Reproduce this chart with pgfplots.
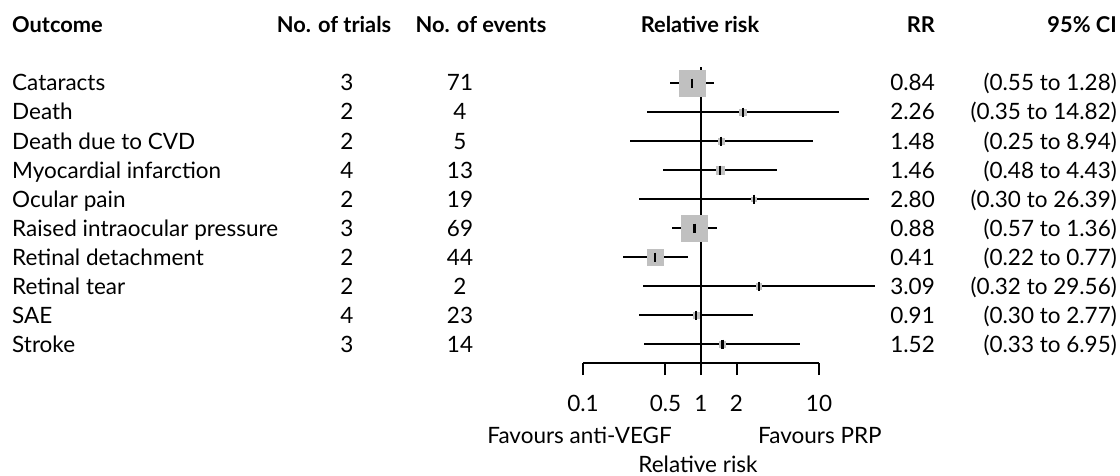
\documentclass[border=0pt]{standalone}
\usepackage{pgfplots}
\pgfplotsset{compat=1.18}
\usepackage{pgfplotstable}
\usepackage{fontspec}
\setmainfont{Lato}

% Pooled relative risks with 95% confidence limits; side = square marker width
\pgfplotstableread{
row rr   lo   hi    side
10  0.84 0.55 1.28  26
9   2.26 0.35 14.82 7
8   1.48 0.25 8.94  7
7   1.46 0.48 4.43  9
6   2.80 0.30 26.39 5
5   0.88 0.57 1.36  26
4   0.41 0.22 0.77  17
3   3.09 0.32 29.56 6
2   0.91 0.30 2.77  6
1   1.52 0.33 6.95  7
}\forestdata

\definecolor{boxgrey}{RGB}{192,192,192}
\newcommand{\txt}{\fontsize{22.5}{27}\selectfont}
\newcommand{\hdr}{\fontsize{21.8}{26}\selectfont\bfseries}

\begin{document}
\begin{tikzpicture}[x=1pt,y=1pt,font=\txt]
\useasboundingbox (0,0) rectangle (1120,475);

\begin{axis}[
  at={(583pt,112pt)}, anchor=south west,
  scale only axis, width=236pt, height=296pt,
  xmode=log, xmin=0.1, xmax=10,
  ymin=0.344828, ymax=10.551724,
  clip=false,
  axis y line=none,
  axis x line*=bottom,
  axis line style={black, line width=2pt},
  xtick={0.1,0.5,1,2,10},
  xticklabels={0.1,0.5,1,2,10},
  minor xtick={},
  xtick pos=bottom,
  tick align=outside,
  major tick length=12pt,
  tick style={black, line width=2pt},
  xticklabel style={font=\txt, anchor=base, yshift=-36pt},
]
% line of no effect
\addplot[black, line width=2pt] coordinates {(1,0.344828) (1,10.551724)};
% weighted squares
\addplot[only marks, mark=square*,
  mark options={draw=boxgrey, fill=boxgrey, line width=0.5pt},
  scatter,
  visualization depends on={\thisrow{side}/2-0.25 \as \halfside},
  scatter/@pre marker code/.code={\pgfplotsset{/tikz/mark size=\halfside}},
  scatter/@post marker code/.code={}]
  table[x=rr, y=row] {\forestdata};
% confidence intervals
\addplot[draw=none, mark=none,
  error bars/.cd, x dir=both, x explicit,
  error bar style={draw=black, line width=2pt}, error mark=none]
  table[x=rr, y=row,
        x error plus expr=\thisrow{hi}-\thisrow{rr},
        x error minus expr=\thisrow{rr}-\thisrow{lo}] {\forestdata};
% point estimates
\addplot[only marks, mark=|, mark size=4.5pt,
  mark options={draw=black, line width=2.2pt}]
  table[x=rr, y=row] {\forestdata};
\end{axis}

% column headers
\begin{scope}[every node/.style={inner sep=0pt, font=\hdr}]
\node[anchor=base west] at (12,442) {Outcome};
\node[anchor=base] at (334,442) {No. of trials};
\node[anchor=base] at (481,442) {No. of events};
\node[anchor=base] at (700,442) {Relative risk};
\node[anchor=base east] at (935,442) {RR};
\node[anchor=base east] at (1117,442) {95\% CI};
\end{scope}

% table rows
\begin{scope}[every node/.style={inner sep=0pt, font=\txt}]
\foreach \i/\name/\tr/\ev/\rr/\ci in {
  0/Cataracts/3/71/0.84/(0.55 to 1.28),
  1/Death/2/4/2.26/(0.35 to 14.82),
  2/Death due to CVD/2/5/1.48/(0.25 to 8.94),
  3/Myocardial infarction/4/13/1.46/(0.48 to 4.43),
  4/Ocular pain/2/19/2.80/(0.30 to 26.39),
  5/Raised intraocular pressure/3/69/0.88/(0.57 to 1.36),
  6/Retinal detachment/2/44/0.41/(0.22 to 0.77),
  7/Retinal tear/2/2/3.09/(0.32 to 29.56),
  8/SAE/4/23/0.91/(0.30 to 2.77),
  9/Stroke/3/14/1.52/(0.33 to 6.95)}{
  \pgfmathsetmacro{\yb}{392-29*\i-8}
  \node[anchor=base west] at (12,\yb) {\name};
  \node[anchor=base] at (347,\yb) {\tr};
  \node[anchor=base] at (460,\yb) {\ev};
  \node[anchor=base east] at (935,\yb) {\rr};
  \node[anchor=base east] at (1117,\yb) {\ci};
}
\node[anchor=base east] at (672,32) {Favours anti-VEGF};
\node[anchor=base west] at (758,32) {Favours PRP};
\node[anchor=base] at (698,3) {Relative risk};
\end{scope}
\end{tikzpicture}
\end{document}
